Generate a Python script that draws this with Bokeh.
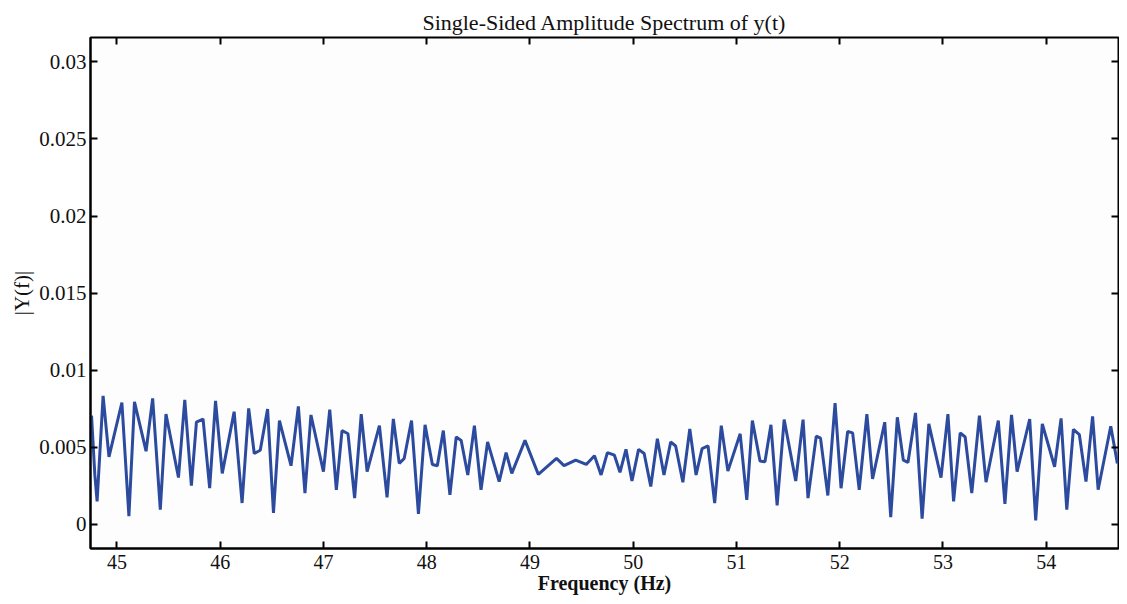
from bokeh.plotting import figure
from bokeh.models import Range1d, FixedTicker, LinearAxis, Title, CustomLabelingPolicy
from bokeh.embed import file_html
from bokeh.resources import INLINE

# ---- data ----
freq_hz = [
    44.754, 44.786, 44.808, 44.866, 44.923, 45.048, 45.116, 45.170, 45.282, 45.346,
    45.420, 45.475, 45.596, 45.657, 45.721, 45.770, 45.834, 45.898, 45.955, 46.020,
    46.135, 46.212, 46.276, 46.330, 46.388, 46.459, 46.516, 46.574, 46.686, 46.757,
    46.821, 46.879, 47.000, 47.061, 47.125, 47.180, 47.238, 47.302, 47.366, 47.423,
    47.542, 47.616, 47.677, 47.734, 47.782, 47.853, 47.920, 47.984, 48.055, 48.103,
    48.161, 48.225, 48.286, 48.334, 48.398, 48.462, 48.526, 48.590, 48.702, 48.769,
    48.824, 48.952, 49.081, 49.257, 49.330, 49.443, 49.545, 49.625, 49.689, 49.750,
    49.818, 49.872, 49.930, 49.988, 50.052, 50.106, 50.170, 50.234, 50.298, 50.363,
    50.411, 50.481, 50.548, 50.609, 50.667, 50.725, 50.789, 50.853, 50.917, 51.036,
    51.100, 51.154, 51.228, 51.276, 51.334, 51.394, 51.462, 51.574, 51.645, 51.693,
    51.773, 51.814, 51.885, 51.955, 52.013, 52.077, 52.125, 52.189, 52.263, 52.318,
    52.436, 52.494, 52.558, 52.616, 52.661, 52.734, 52.798, 52.863, 52.981, 53.048,
    53.103, 53.167, 53.215, 53.279, 53.353, 53.417, 53.536, 53.600, 53.664, 53.718,
    53.840, 53.898, 53.962, 54.081, 54.144, 54.199, 54.263, 54.321, 54.385, 54.449,
    54.503, 54.625, 54.689,
]
amplitude = [
    0.00706, 0.00321, 0.00150, 0.00834, 0.00438, 0.00791, 0.00053, 0.00795, 0.00475, 0.00817,
    0.00096, 0.00716, 0.00304, 0.00808, 0.00252, 0.00663, 0.00684, 0.00235, 0.00802, 0.00331,
    0.00731, 0.00139, 0.00753, 0.00460, 0.00481, 0.00748, 0.00075, 0.00673, 0.00381, 0.00765,
    0.00203, 0.00710, 0.00342, 0.00744, 0.00225, 0.00609, 0.00588, 0.00171, 0.00716, 0.00342,
    0.00641, 0.00175, 0.00684, 0.00396, 0.00428, 0.00674, 0.00068, 0.00646, 0.00389, 0.00381,
    0.00609, 0.00192, 0.00567, 0.00545, 0.00321, 0.00641, 0.00225, 0.00535, 0.00278, 0.00466,
    0.00331, 0.00545, 0.00325, 0.00428, 0.00381, 0.00417, 0.00389, 0.00445, 0.00321, 0.00466,
    0.00449, 0.00338, 0.00487, 0.00282, 0.00487, 0.00460, 0.00246, 0.00556, 0.00321, 0.00535,
    0.00509, 0.00274, 0.00620, 0.00321, 0.00492, 0.00509, 0.00139, 0.00641, 0.00346, 0.00588,
    0.00160, 0.00674, 0.00411, 0.00406, 0.00646, 0.00124, 0.00680, 0.00282, 0.00680, 0.00171,
    0.00573, 0.00560, 0.00188, 0.00787, 0.00235, 0.00603, 0.00594, 0.00225, 0.00716, 0.00295,
    0.00663, 0.00047, 0.00695, 0.00417, 0.00402, 0.00723, 0.00038, 0.00652, 0.00304, 0.00716,
    0.00150, 0.00594, 0.00567, 0.00203, 0.00706, 0.00274, 0.00674, 0.00133, 0.00710, 0.00342,
    0.00684, 0.00026, 0.00652, 0.00374, 0.00688, 0.00096, 0.00616, 0.00582, 0.00278, 0.00701,
    0.00225, 0.00637, 0.00396,
]
x_ticks = [45, 46, 47, 48, 49, 50, 51, 52, 53, 54]
y_ticks = [0, 0.005, 0.01, 0.015, 0.02, 0.025, 0.03]
y_tick_labels = ["0", "0.005", "0.01", "0.015", "0.02", "0.025", "0.03"]
title_text = "Single-Sided Amplitude Spectrum of y(t)"
x_label = "Frequency (Hz)"
y_label = "|Y(f)|"

FONT = "Liberation Serif"
LINE_COLOR = "#2C4B9F"
TEXT_COLOR = "#111111"

p = figure(
    width=1119, height=596,
    output_backend="svg", toolbar_location=None,
    x_range=Range1d(44.744, 54.70), y_range=Range1d(-0.00156, 0.03158),
    min_border_left=90, min_border_right=1, min_border_top=37, min_border_bottom=48,
    background_fill_color="#fdfdfd", border_fill_color="white",
)
p.title = Title(text=title_text, align="center", text_font=FONT,
                text_font_size="22px", text_font_style="normal",
                text_color=TEXT_COLOR, standoff=6)

p.line(freq_hz, amplitude, line_color=LINE_COLOR, line_width=3)

p.grid.visible = False
p.outline_line_color = "black"
p.outline_line_width = 2

no_labels = CustomLabelingPolicy(code="for (const i of indices) { indices.unset(i) }; return indices")

def style_axis(ax, ticks, show_labels=True):
    ax.ticker = FixedTicker(ticks=ticks)
    ax.minor_tick_line_color = None
    ax.major_tick_in = 7
    ax.major_tick_out = 0
    ax.major_tick_line_width = 2
    ax.major_tick_line_color = "black"
    ax.axis_line_color = "black"
    ax.axis_line_width = 2
    if show_labels:
        ax.major_label_text_font = FONT
        ax.major_label_text_color = TEXT_COLOR
    else:
        ax.major_label_text_font_size = "0px"
        ax.major_label_standoff = 0
        ax.major_label_policy = no_labels
        ax.axis_line_color = None

xa = p.xaxis[0]
style_axis(xa, x_ticks)
xa.major_label_text_font_size = "20px"
xa.major_label_standoff = 6
xa.axis_label = x_label
xa.axis_label_text_font = FONT
xa.axis_label_text_font_size = "20px"
xa.axis_label_text_font_style = "bold"
xa.axis_label_text_color = TEXT_COLOR
xa.axis_label_standoff = 0

ya = p.yaxis[0]
style_axis(ya, y_ticks)
ya.major_label_text_font_size = "21px"
ya.major_label_overrides = {t: s for t, s in zip(y_ticks, y_tick_labels)}
ya.major_label_standoff = 4
ya.axis_label = y_label
ya.axis_label_text_font = FONT
ya.axis_label_text_font_size = "21px"
ya.axis_label_text_font_style = "normal"
ya.axis_label_text_color = TEXT_COLOR
ya.axis_label_standoff = 2

top_axis = LinearAxis()
style_axis(top_axis, x_ticks, show_labels=False)
p.add_layout(top_axis, "above")

right_axis = LinearAxis()
style_axis(right_axis, y_ticks, show_labels=False)
p.add_layout(right_axis, "right")

open("out.html", "w").write(file_html(p, INLINE))
